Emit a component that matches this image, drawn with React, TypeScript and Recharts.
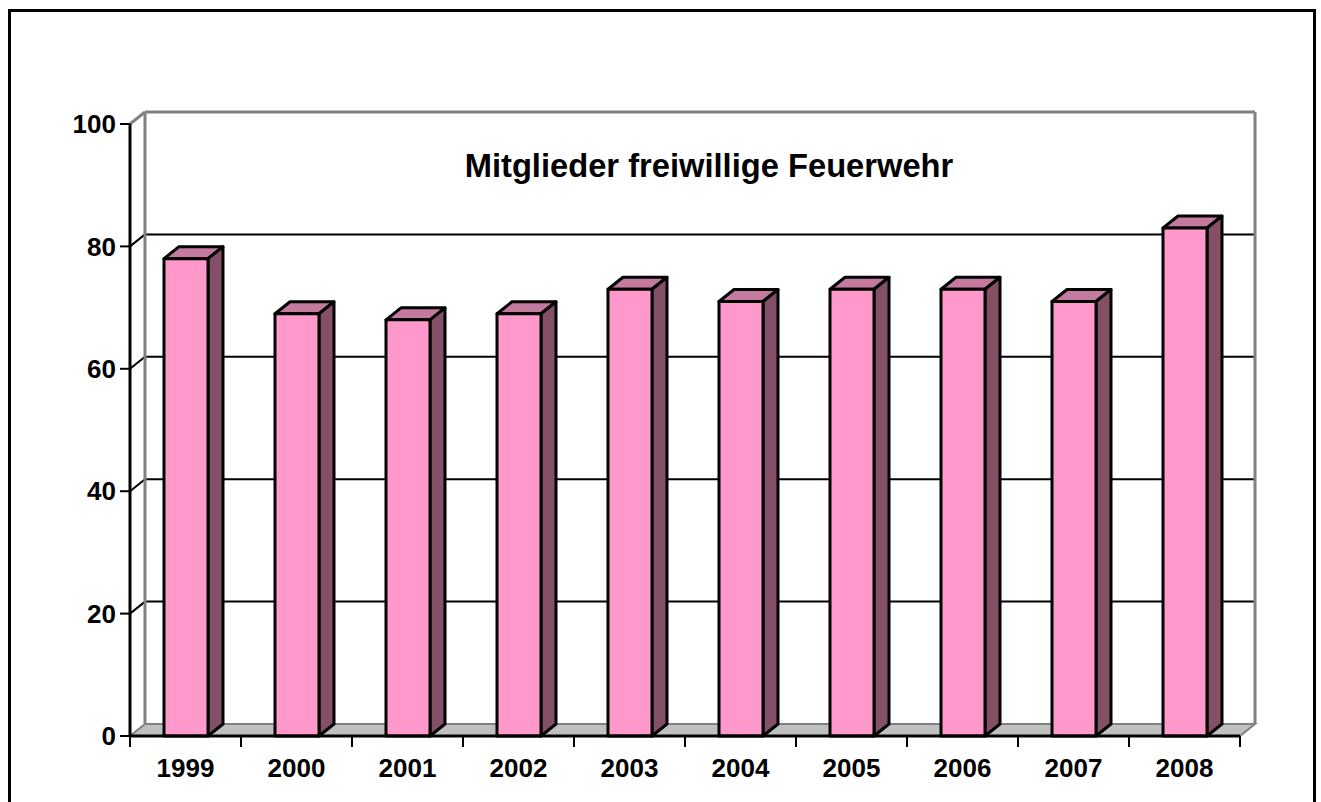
import { BarChart, Bar, XAxis, YAxis, CartesianGrid } from 'recharts'

const years = ['1999', '2000', '2001', '2002', '2003', '2004', '2005', '2006', '2007', '2008']
const members = [78, 69, 68, 69, 73, 71, 73, 73, 71, 83]
const yTicks = [0, 20, 40, 60, 80, 100]

const data = years.map((year, i) => ({ year, value: members[i] }))

// depth of the fake 3D effect
const DX = 15
const DY = 12

const font = '"Liberation Sans", Arial, sans-serif'

function Box3D(props: any) {
  const { x, y, width, height } = props
  if (!width || height == null) return null
  const front = '#FF99CC'
  const top = '#C4799F'
  const side = '#845068'
  return (
    <g stroke="#000" strokeWidth={3} strokeLinejoin="round">
      <polygon
        points={`${x},${y} ${x + DX},${y - DY} ${x + width + DX},${y - DY} ${x + width},${y}`}
        fill={top}
      />
      <polygon
        points={`${x + width},${y} ${x + width + DX},${y - DY} ${x + width + DX},${y + height - DY} ${x + width},${y + height}`}
        fill={side}
      />
      <rect x={x} y={y} width={width} height={height} fill={front} />
    </g>
  )
}

function GridLine(props: any) {
  const { x1, y1, x2, key } = props
  const top = props.y ?? 124
  const bottom = top + (props.height ?? 612)
  const isTop = Math.abs(y1 - top) < 1
  const isFloor = Math.abs(y1 - bottom) < 1
  if (isFloor) {
    return (
      <g key={key}>
        <polygon
          points={`${x1},${y1} ${x1 + DX},${y1 - DY} ${x2 + DX},${y1 - DY} ${x2},${y1}`}
          fill="#C0C0C0"
          stroke="#808080"
          strokeWidth={2}
        />
      </g>
    )
  }
  if (isTop) {
    return (
      <g key={key} stroke="#808080" strokeWidth={3} fill="none">
        <line x1={x1 + DX} y1={y1 - DY} x2={x2 + DX} y2={y1 - DY} />
        <line x1={x1} y1={y1} x2={x1 + DX} y2={y1 - DY} />
        <line x1={x1 + DX} y1={y1 - DY} x2={x1 + DX} y2={bottom - DY} />
        <line x1={x2 + DX} y1={y1 - DY} x2={x2 + DX} y2={bottom - DY} />
      </g>
    )
  }
  return (
    <g key={key} stroke="#000" strokeWidth={2} fill="none">
      <line x1={x1 + DX} y1={y1 - DY} x2={x2 + DX} y2={y1 - DY} />
      <line x1={x1} y1={y1} x2={x1 + DX} y2={y1 - DY} />
    </g>
  )
}

function YearTick(props: any) {
  const { x, y, payload, index, visibleTicksCount } = props
  const half = payload?.offset ?? 55.5
  const last = index === (visibleTicksCount ?? years.length) - 1
  return (
    <g>
      <line x1={x - half} y1={y} x2={x - half} y2={y + 11} stroke="#000" strokeWidth={2} />
      {last && <line x1={x + half} y1={y} x2={x + half} y2={y + 11} stroke="#000" strokeWidth={2} />}
      <text
        x={x}
        y={y + 41}
        textAnchor="middle"
        fontFamily={font}
        fontWeight="bold"
        fontSize={26}
        fill="#000"
      >
        {payload.value}
      </text>
    </g>
  )
}

export default function App() {
  return (
    <div style={{ position: 'absolute', left: 0, top: 0, width: 1321, height: 802, overflow: 'hidden', background: '#fff' }}>
      <div
        style={{
          position: 'absolute',
          left: 8,
          top: 9,
          width: 1302,
          height: 820,
          border: '3px solid #000',
        }}
      />
      <div
        style={{
          position: 'absolute',
          left: 0,
          width: 1418,
          top: 147,
          textAlign: 'center',
          fontFamily: font,
          fontWeight: 'bold',
          fontSize: 32.7,
          color: '#000',
        }}
      >
        Mitglieder freiwillige Feuerwehr
      </div>
      <div style={{ position: 'absolute', left: 0, top: 0 }}>
        <BarChart
          width={1321}
          height={802}
          data={data}
          margin={{ top: 124, right: 81, bottom: 26, left: 70 }}
          barSize={44}
        >
          <CartesianGrid vertical={false} horizontal={GridLine} />
          <XAxis
            dataKey="year"
            height={40}
            axisLine={{ stroke: '#000', strokeWidth: 3 }}
            tickLine={false}
            tickSize={0}
            tickMargin={0}
            tick={YearTick}
            interval={0}
          />
          <YAxis
            width={60}
            domain={[0, 100]}
            ticks={yTicks}
            interval={0}
            axisLine={{ stroke: '#000', strokeWidth: 3 }}
            tickLine={{ stroke: '#000', strokeWidth: 2 }}
            tickSize={10}
            tickMargin={4}
            tick={{ fill: '#000', fontFamily: font, fontWeight: 'bold', fontSize: 26 }}
          />
          <Bar dataKey="value" shape={Box3D} isAnimationActive={false} />
        </BarChart>
      </div>
    </div>
  )
}
